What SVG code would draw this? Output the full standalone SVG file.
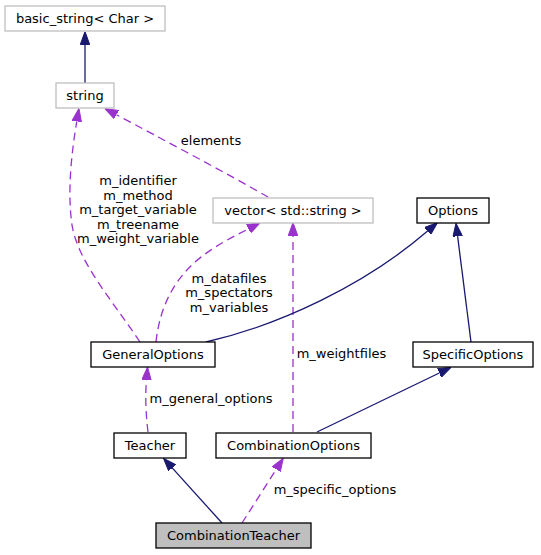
<svg xmlns="http://www.w3.org/2000/svg" width="541" height="555" viewBox="0 0 541 555">
<style>
text{font-family:"DejaVu Sans","Liberation Sans",sans-serif;font-size:13px;fill:#000;text-anchor:middle}
.gray rect{fill:#fff;stroke:#bfbfbf;stroke-width:1.3}
.blk rect{fill:#fff;stroke:#000;stroke-width:1.3}
.cur rect{fill:#bfbfbf;stroke:#000;stroke-width:1.3}
.inh{fill:none;stroke:#191970;stroke-width:1.3;marker-end:url(#an)}
.use{fill:none;stroke:#9a32cd;stroke-width:1.3;stroke-dasharray:8,5;marker-end:url(#ap)}
</style>
<defs>
<marker id="an" viewBox="0 0 13 10" refX="0" refY="5" markerWidth="13" markerHeight="10" markerUnits="userSpaceOnUse" orient="auto">
<path d="M0,0.3 L13,5 L0,9.7 z" fill="#191970" stroke="#191970" stroke-width="1"/>
</marker>
<marker id="ap" viewBox="0 0 13 10" refX="0" refY="5" markerWidth="13" markerHeight="10" markerUnits="userSpaceOnUse" orient="auto">
<path d="M0,0.3 L13,5 L0,9.7 z" fill="#9a32cd" stroke="#9a32cd" stroke-width="1"/>
</marker>
</defs>
<g id="edges">
<path class="inh" d="M85,83 L85,44.5"/>
<path class="use" d="M140,342 C112,300 78,262 72,225 C67,190 72,150 76.8,121.3"/>
<path class="use" d="M268,197 C230,175 160,138 116.4,114.7"/>
<path class="use" d="M156,342 C160,305 175,280 195,262 C215,245 235,236 248.6,228.8"/>
<path class="use" d="M293,432 L293,235.5"/>
<path class="inh" d="M206,342 C280,325 365,285 427.6,231.1"/>
<path class="inh" d="M471,342 L457.6,236.2"/>
<path class="inh" d="M317,432 L439.3,373"/>
<path class="use" d="M148,432 C146,415 145,398 146.5,380"/>
<path class="inh" d="M222,523 L172.2,467.9"/>
<path class="use" d="M242,523 L276.3,469.3"/>
<text x="211" y="144.5">elements</text>
<text x="138" y="185">m_identifier</text>
<text x="138" y="199.5">m_method</text>
<text x="138" y="214">m_target_variable</text>
<text x="138" y="228.5">m_treename</text>
<text x="138" y="243">m_weight_variable</text>
<text x="229" y="282.5">m_datafiles</text>
<text x="229" y="297">m_spectators</text>
<text x="229" y="311.5">m_variables</text>
<text x="341.5" y="358">m_weightfiles</text>
<text x="211" y="402.5">m_general_options</text>
<text x="335" y="493.5">m_specific_options</text>
</g>
<g id="basic_string" class="gray"><rect x="5" y="6" width="160" height="25"/><text x="85" y="23">basic_string&lt; Char &gt;</text></g>
<g id="string" class="gray"><rect x="56" y="83" width="58" height="25"/><text x="85" y="100">string</text></g>
<g id="vector" class="gray"><rect x="213" y="198" width="160" height="25"/><text x="293" y="215">vector&lt; std::string &gt;</text></g>
<g id="Options" class="blk"><rect x="417" y="198" width="72" height="25"/><text x="453" y="215">Options</text></g>
<g id="GeneralOptions" class="blk"><rect x="91" y="342" width="124" height="25"/><text x="153" y="359">GeneralOptions</text></g>
<g id="SpecificOptions" class="blk"><rect x="413" y="342" width="120" height="25"/><text x="473" y="359">SpecificOptions</text></g>
<g id="Teacher" class="blk"><rect x="114" y="433" width="72" height="25"/><text x="150" y="450">Teacher</text></g>
<g id="CombinationOptions" class="blk"><rect x="216" y="433" width="155" height="25"/><text x="293.5" y="450">CombinationOptions</text></g>
<g id="CombinationTeacher" class="cur"><rect x="156" y="523" width="155" height="25"/><text x="233.5" y="540">CombinationTeacher</text></g>
</svg>
